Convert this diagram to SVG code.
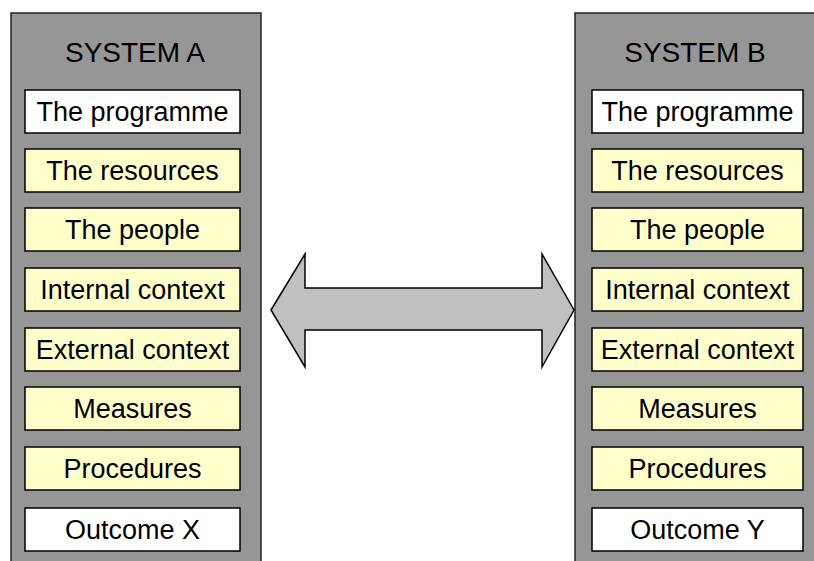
<svg xmlns="http://www.w3.org/2000/svg" width="814" height="561" viewBox="0 0 814 561">
<style>
.panel{fill:#969696;stroke:#222;stroke-width:1.5}
.title{font-family:"Liberation Sans",Arial,sans-serif;font-size:28px;fill:#000;text-anchor:middle}
.lbl{font-family:"Liberation Sans",Arial,sans-serif;font-size:27px;fill:#000;text-anchor:middle}
.w{fill:#fff;stroke:#000;stroke-width:1.5}
.y{fill:#ffffcc;stroke:#000;stroke-width:1.5}
.hl{fill:none;stroke:#fffff0;stroke-width:1.2}
.arrow{fill:#c0c0c0;stroke:#000;stroke-width:1.5;stroke-linejoin:miter}
</style>
<rect width="814" height="561" fill="#fff"/>
<g id="systemA">
<rect class="panel" x="11" y="13" width="250" height="560"/>
<text class="title" x="135" y="62">SYSTEM A</text>
<g id="a1"><rect class="w" x="25" y="90" width="215" height="43"/><text class="lbl" x="132.5" y="121">The programme</text></g>
<g id="a2"><rect class="y" x="25" y="149" width="215" height="43"/><text class="lbl" x="132.5" y="180">The resources</text></g>
<g id="a3"><rect class="y" x="25" y="208" width="215" height="43"/><text class="lbl" x="132.5" y="239">The people</text></g>
<g id="a4"><rect class="y" x="25" y="268" width="215" height="43"/><text class="lbl" x="132.5" y="299">Internal context</text></g>
<g id="a5"><rect class="y" x="25" y="328" width="215" height="43"/><text class="lbl" x="132.5" y="359">External context</text></g>
<g id="a6"><rect class="y" x="25" y="387" width="215" height="43"/><text class="lbl" x="132.5" y="418">Measures</text></g>
<g id="a7"><rect class="y" x="25" y="447" width="215" height="43"/><text class="lbl" x="132.5" y="478">Procedures</text></g>
<g id="a8"><rect class="w" x="25" y="508" width="215" height="43"/><text class="lbl" x="132.5" y="539">Outcome X</text></g>
</g>
<g id="systemB">
<rect class="panel" x="575" y="13" width="260" height="560"/>
<text class="title" x="695" y="62">SYSTEM B</text>
<g id="b1"><rect class="w" x="592" y="90" width="211" height="43"/><text class="lbl" x="697.5" y="121">The programme</text></g>
<g id="b2"><rect class="y" x="592" y="149" width="211" height="43"/><text class="lbl" x="697.5" y="180">The resources</text></g>
<g id="b3"><rect class="y" x="592" y="208" width="211" height="43"/><text class="lbl" x="697.5" y="239">The people</text></g>
<g id="b4"><rect class="y" x="592" y="268" width="211" height="43"/><text class="lbl" x="697.5" y="299">Internal context</text></g>
<g id="b5"><rect class="y" x="592" y="328" width="211" height="43"/><text class="lbl" x="697.5" y="359">External context</text></g>
<g id="b6"><rect class="y" x="592" y="387" width="211" height="43"/><text class="lbl" x="697.5" y="418">Measures</text></g>
<g id="b7"><rect class="y" x="592" y="447" width="211" height="43"/><text class="lbl" x="697.5" y="478">Procedures</text></g>
<g id="b8"><rect class="w" x="592" y="508" width="211" height="43"/><text class="lbl" x="697.5" y="539">Outcome Y</text></g>
</g>
<g id="connectors">
<polygon class="arrow" points="271,310 305,254 305,288 542,288 542,254 574,310 542,367 542,330 305,330 305,367"/>
</g>
</svg>
